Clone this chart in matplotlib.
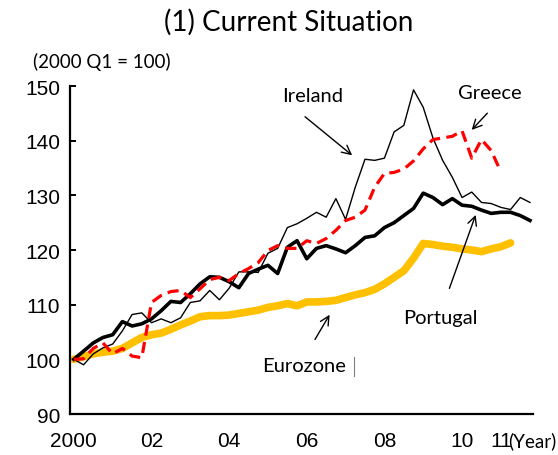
import numpy as np
import matplotlib
matplotlib.use('Agg')
import matplotlib.pyplot as plt

# quarterly index, 2000 Q1 = 100
eurozone = [100, 100.5, 101, 101.3, 101.5, 102, 103, 104, 104.5, 104.8,
            105.5, 106.3, 107, 107.8, 108, 108, 108.1, 108.4, 108.7, 109,
            109.5, 109.8, 110.2, 109.8, 110.5, 110.5, 110.6, 110.8, 111.3, 111.8,
            112.2, 112.8, 113.8, 115, 116.2, 118.5, 121.2, 121, 120.7, 120.5,
            120.2, 120, 119.7, 120.2, 120.6, 121.3]
portugal = [100, 101.5, 103, 104, 104.5, 106.9, 106.1, 106.5, 107.4, 108.9,
            110.6, 110.4, 112, 113.8, 115.1, 115, 114.2, 113.1, 115.7, 116.5,
            117.2, 115.7, 120.5, 121.7, 118.4, 120.3, 120.8, 120.2, 119.5, 120.8,
            122.3, 122.6, 124.1, 125, 126.3, 127.6, 130.4, 129.6, 128.3, 129.4,
            128.2, 128, 127.3, 126.7, 126.9, 126.9, 126.3, 125.4]
ireland = [100, 99, 101, 102.1, 102.8, 105.2, 108.2, 108.5, 106.7, 107.4,
           106.7, 107.6, 110.4, 110.7, 112.6, 110.9, 113, 116, 116, 115.9,
           119.4, 120.3, 124.1, 124.8, 125.8, 126.9, 126, 129.4, 125.6, 131.5,
           136.6, 136.4, 136.8, 141.6, 142.8, 149.3, 146.1, 140.5, 136.4, 133.3,
           129.6, 130.6, 128.7, 128.5, 127.8, 127.4, 129.6, 128.7]
greece = [100, 100.1, 102, 103, 101, 102, 100.6, 100.3, 110.4, 111.7,
          112.4, 112.6, 111.3, 112.9, 114.6, 115, 114.4, 115.7, 116.6, 117.7,
          119.9, 120.8, 120.3, 120.3, 121.7, 121.2, 122.1, 123.6, 125.4, 126,
          127.3, 131.5, 134, 134.2, 134.8, 136.3, 138.5, 140.2, 140.5, 140.8,
          141.8, 136.8, 140.2, 138.2, 134.3]

year_ticks = [0, 8, 16, 24, 32, 40, 44]
year_labels = ['2000', '02', '04', '06', '08', '10', '11']
y_ticks = [90, 100, 110, 120, 130, 140, 150]

title_font = ['Lato', 'DejaVu Sans']
tick_font = ['Liberation Sans Narrow', 'Liberation Sans', 'DejaVu Sans']

fig = plt.figure(figsize=(5.58, 4.56), dpi=100)
ax = fig.add_axes([0.1254, 0.0899, 0.955 - 0.1254, 0.8092 - 0.0899])

ax.plot(np.arange(len(eurozone)), eurozone, color='#FFC000', lw=5.5,
        solid_capstyle='round', zorder=2)
ax.plot(np.arange(len(ireland)), ireland, color='black', lw=1.0, zorder=3)
ax.plot(np.arange(len(portugal)), portugal, color='black', lw=2.6, zorder=4)
ax.plot(np.arange(len(greece)), greece, color='#FF0000', lw=2.3,
        dashes=(3.5, 2), zorder=5)

ax.set_xlim(-0.4, 47.3)
ax.set_ylim(90, 150)
ax.set_yticks(y_ticks)
ax.set_xticks(year_ticks)
ax.set_xticklabels(year_labels)

for side in ['top', 'right']:
    ax.spines[side].set_visible(False)
for side in ['left', 'bottom']:
    ax.spines[side].set_linewidth(1.6)

ax.tick_params(axis='y', direction='in', length=4, width=1.4, pad=7)
ax.tick_params(axis='x', length=0, pad=12)
for lab in ax.get_xticklabels() + ax.get_yticklabels():
    lab.set_family(tick_font)
    lab.set_fontsize(15)

# labels and arrows
arrow = dict(arrowstyle='->', color='black', lw=1.0, mutation_scale=16)
ax.annotate('', xy=(28.9, 137.0), xytext=(23.6, 144.7), arrowprops=arrow)
ax.text(24.6, 148.3, 'Ireland', ha='center', va='center', fontsize=14.5, family=title_font)

ax.annotate('', xy=(40.8, 141.6), xytext=(42.8, 145.4), arrowprops=arrow)
ax.text(42.9, 148.9, 'Greece', ha='center', va='center', fontsize=14.5, family=title_font)

ax.annotate('', xy=(41.5, 126.9), xytext=(38.6, 112.5), arrowprops=arrow)
ax.text(37.8, 107.7, 'Portugal', ha='center', va='center', fontsize=14.5, family=title_font)

ax.annotate('', xy=(26.5, 108.6), xytext=(24.7, 103.2), arrowprops=arrow)
ax.text(23.7, 98.8, 'Eurozone', ha='center', va='center', fontsize=14.5, family=title_font)
ax.plot([28.9, 28.9], [96.9, 100.4], color='gray', lw=0.8)

fig.text(289 / 558, 1 - 22 / 456, '(1) Current Situation', ha='center', va='center',
         fontsize=20, family=title_font)
fig.text(33 / 558, 1 - 62 / 456, '(2000 Q1 = 100)', ha='left', va='center',
         fontsize=13.5, family=title_font)
fig.text(508 / 558, 1 - 441 / 456, '(Year)', ha='left', va='center',
         fontsize=13.5, family=title_font)

plt.savefig('out.png', dpi=100)
plt.close()
